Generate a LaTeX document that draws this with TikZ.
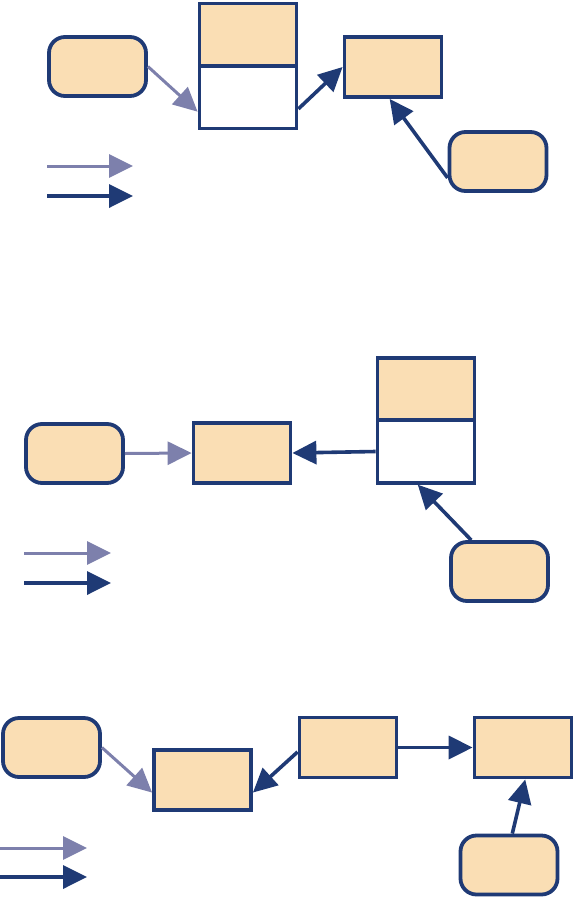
\documentclass[tikz,border=0pt]{standalone}
\usepackage{xcolor}
\usepackage{tikz}
\usetikzlibrary{arrows.meta,positioning}
\definecolor{darkBlue}  {RGB}{31,  58, 117}
\definecolor{lightBlue} {RGB}{125, 128, 172}
\definecolor{peach}     {RGB}{250, 222, 180}
\begin{document}
\begin{tikzpicture}[x=1pt,y=-1pt,
          rbox/.style={rectangle,rounded corners=16pt,draw=darkBlue,fill=peach,
                       minimum width=97pt,minimum height=59pt,line width=3.8pt,inner sep=0pt},
          sbox/.style={rectangle,draw=darkBlue,fill=peach,
                       minimum width=97pt,minimum height=60pt,line width=3.8pt,inner sep=0pt},
          tbox/.style={sbox,minimum height=62.5pt},
          wbox/.style={tbox,fill=white},
          lightarr/.style={lightBlue,line width=3pt,-{Triangle[length=24pt,width=23pt]}},
          darkarr/.style={darkBlue,line width=3.6pt,-{Triangle[length=24pt,width=23pt]}},
        ]
        \useasboundingbox (0,0) rectangle (575,900);
        % Parte 1
        \node[rbox] (a1)   at (97.5,66.5) {};
        \node[tbox] (s1t)  at (248,34.75) {};
        \node[wbox] (s1b)  at (248,97.25) {};
        \node[sbox] (b1)   at (393,67)    {};
        \node[rbox] (c1)   at (498,161.5) {};
        \draw[lightarr] (a1.east) -- (s1b.196);
        \draw[darkarr]  (s1b.-13) -- (b1.west);
        \draw[darkarr]  (c1.198) -- (b1.-96);
        \coordinate (l1a) at (47,166);  \coordinate (l1b) at (133,166);
        \coordinate (l1c) at (47,196);  \coordinate (l1d) at (133,196);
        \draw[lightarr] (l1a) -- (l1b);
        \draw[darkarr]  (l1c) -- (l1d);
        % Parte 2
        \node[rbox] (a2)   at (74.5,453.5) {};
        \node[sbox] (b2)   at (242,453)    {};
        \node[tbox] (s2t)  at (426,389)    {};
        \node[wbox] (s2b)  at (426,451.5)  {};
        \node[rbox] (c2)   at (499.5,571.5) {};
        \draw[lightarr] (a2.east) -- (b2.west);
        \draw[darkarr]  (s2b.west) -- (b2.east);
        \draw[darkarr]  (c2.132) -- (s2b.-104);
        \coordinate (l2a) at (24,553);  \coordinate (l2b) at (111,553);
        \coordinate (l2c) at (24,583);  \coordinate (l2d) at (111,583);
        \draw[lightarr] (l2a) -- (l2b);
        \draw[darkarr]  (l2c) -- (l2d);
        % Parte 3
        \node[rbox] (a3)   at (51.5,747.5) {};
        \node[sbox] (b3)   at (202.5,780)  {};
        \node[sbox] (c3)   at (348,747.5)  {};
        \node[sbox] (d3)   at (523,747.5)  {};
        \node[rbox] (e3)   at (509,865)    {};
        \draw[lightarr] (a3.east) -- (b3.194);
        \draw[darkarr]  (c3.185) -- (b3.-14);
        \draw[darkarr]  (c3.east) -- (d3.west);
        \draw[darkarr]  (e3.84) -- (d3.-86);
        \coordinate (l3a) at (0,848);  \coordinate (l3b) at (87,848);
        \coordinate (l3c) at (0,877);  \coordinate (l3d) at (87,877);
        \draw[lightarr] (l3a) -- (l3b);
        \draw[darkarr]  (l3c) -- (l3d);
\end{tikzpicture}
\end{document}
